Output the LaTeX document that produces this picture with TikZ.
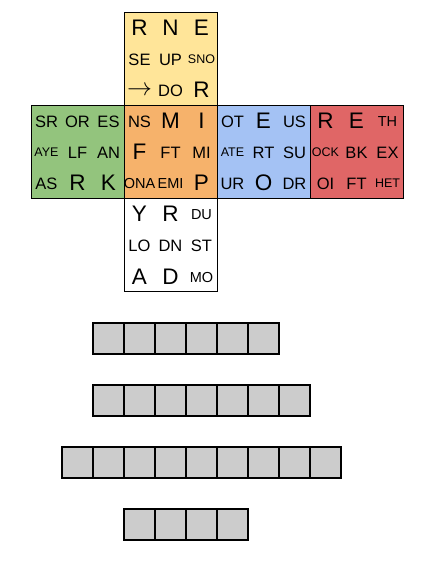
\documentclass[tikz,border=0pt]{standalone}
\usepackage{fontspec}
\setmainfont{Liberation Sans}
\definecolor{topc}{HTML}{FFE599}
\definecolor{greenc}{HTML}{93C47D}
\definecolor{orangec}{HTML}{F6B26B}
\definecolor{bluec}{HTML}{A4C2F4}
\definecolor{redc}{HTML}{E06666}
\definecolor{grayc}{HTML}{CCCCCC}
\begin{document}
\begin{tikzpicture}[x=1pt,y=-1pt,
  face/.style={draw=black,line width=0.8pt},
  cellbox/.style={draw=black,fill=grayc,line width=1.1pt},
  big/.style={font=\fontsize{22.5}{22.5}\selectfont,inner sep=0pt},
  med/.style={font=\fontsize{16.5}{16.5}\selectfont,inner sep=0pt},
  sml/.style={font=\fontsize{12.5}{12.5}\selectfont,inner sep=0pt},
  msm/.style={font=\fontsize{14.5}{14.5}\selectfont,inner sep=0pt}]
\useasboundingbox (0,0) rectangle (433,571);
% faces
\filldraw[face,fill=topc] (124,12) rectangle (217,105);
\filldraw[face,fill=greenc] (31,105) rectangle (124,198);
\filldraw[face,fill=orangec] (124,105) rectangle (217,198);
\filldraw[face,fill=bluec] (217,105) rectangle (310,198);
\filldraw[face,fill=redc] (310,105) rectangle (403,198);
\filldraw[face,fill=white] (124,198) rectangle (217,291);
% top face
\node[big] (t11) at (139.5,27.5) {R};
\node[big] (t12) at (170.5,27.5) {N};
\node[big] (t13) at (201.5,27.5) {E};
\node[med] (t21) at (139.5,59.5) {SE};
\node[med] (t22) at (170.5,59.5) {UP};
\node[sml] (t23) at (201.5,59.5) {SNO};
\node[font=\fontsize{27}{27}\selectfont,inner sep=0pt] (t31) at (139.5,90.5) {$\rightarrow$};
\node[med] (t32) at (170.5,90.5) {DO};
\node[big] (t33) at (201.5,89.5) {R};
% green face
\node[med] (g11) at (46.5,121.5) {SR};
\node[med] (g12) at (77.5,121.5) {OR};
\node[med] (g13) at (108.5,121.5) {ES};
\node[sml] (g21) at (46.5,152.5) {AYE};
\node[med] (g22) at (77.5,152.5) {LF};
\node[med] (g23) at (108.5,152.5) {AN};
\node[med] (g31) at (46.5,183.5) {AS};
\node[big] (g32) at (77.5,182.5) {R};
\node[big] (g33) at (108.5,182.5) {K};
% orange face
\node[med] (o11) at (139.5,121.5) {NS};
\node[big] (o12) at (170.5,120.5) {M};
\node[big] (o13) at (201.5,120.5) {I};
\node[big] (o21) at (139.5,151.5) {F};
\node[med] (o22) at (170.5,152.5) {FT};
\node[med] (o23) at (201.5,152.5) {MI};
\node[msm] (o31) at (139.5,183.5) {ONA};
\node[msm] (o32) at (170.5,183.5) {EMI};
\node[big] (o33) at (201.5,182.5) {P};
% blue face
\node[med] (b11) at (232.5,121.5) {OT};
\node[big] (b12) at (263.5,120.5) {E};
\node[med] (b13) at (294.5,121.5) {US};
\node[sml] (b21) at (232.5,152.5) {ATE};
\node[med] (b22) at (263.5,152.5) {RT};
\node[med] (b23) at (294.5,152.5) {SU};
\node[med] (b31) at (232.5,183.5) {UR};
\node[big] (b32) at (263.5,182.5) {O};
\node[med] (b33) at (294.5,183.5) {DR};
% red face
\node[big] (r11) at (325.5,120.5) {R};
\node[big] (r12) at (356.5,120.5) {E};
\node[msm] (r13) at (387.5,121.5) {TH};
\node[sml] (r21) at (325.5,152.5) {OCK};
\node[med] (r22) at (356.5,152.5) {BK};
\node[med] (r23) at (387.5,152.5) {EX};
\node[med] (r31) at (325.5,183.5) {OI};
\node[med] (r32) at (356.5,183.5) {FT};
\node[sml] (r33) at (387.5,183.5) {HET};
% bottom face
\node[big] (d11) at (139.5,213.5) {Y};
\node[big] (d12) at (170.5,213.5) {R};
\node[msm] (d13) at (201.5,214.5) {DU};
\node[med] (d21) at (139.5,245.5) {LO};
\node[med] (d22) at (170.5,245.5) {DN};
\node[med] (d23) at (201.5,245.5) {ST};
\node[big] (d31) at (139.5,276.5) {A};
\node[big] (d32) at (170.5,276.5) {D};
\node[msm] (d33) at (201.5,277.5) {MO};
% gray rows
\foreach \i in {0,...,5} \draw[cellbox] (93+31*\i,323) rectangle ++(31,31);
\foreach \i in {0,...,6} \draw[cellbox] (93+31*\i,385) rectangle ++(31,31);
\foreach \i in {0,...,8} \draw[cellbox] (62+31*\i,447) rectangle ++(31,31);
\foreach \i in {0,...,3} \draw[cellbox] (124+31*\i,509) rectangle ++(31,31);
\end{tikzpicture}
\end{document}
